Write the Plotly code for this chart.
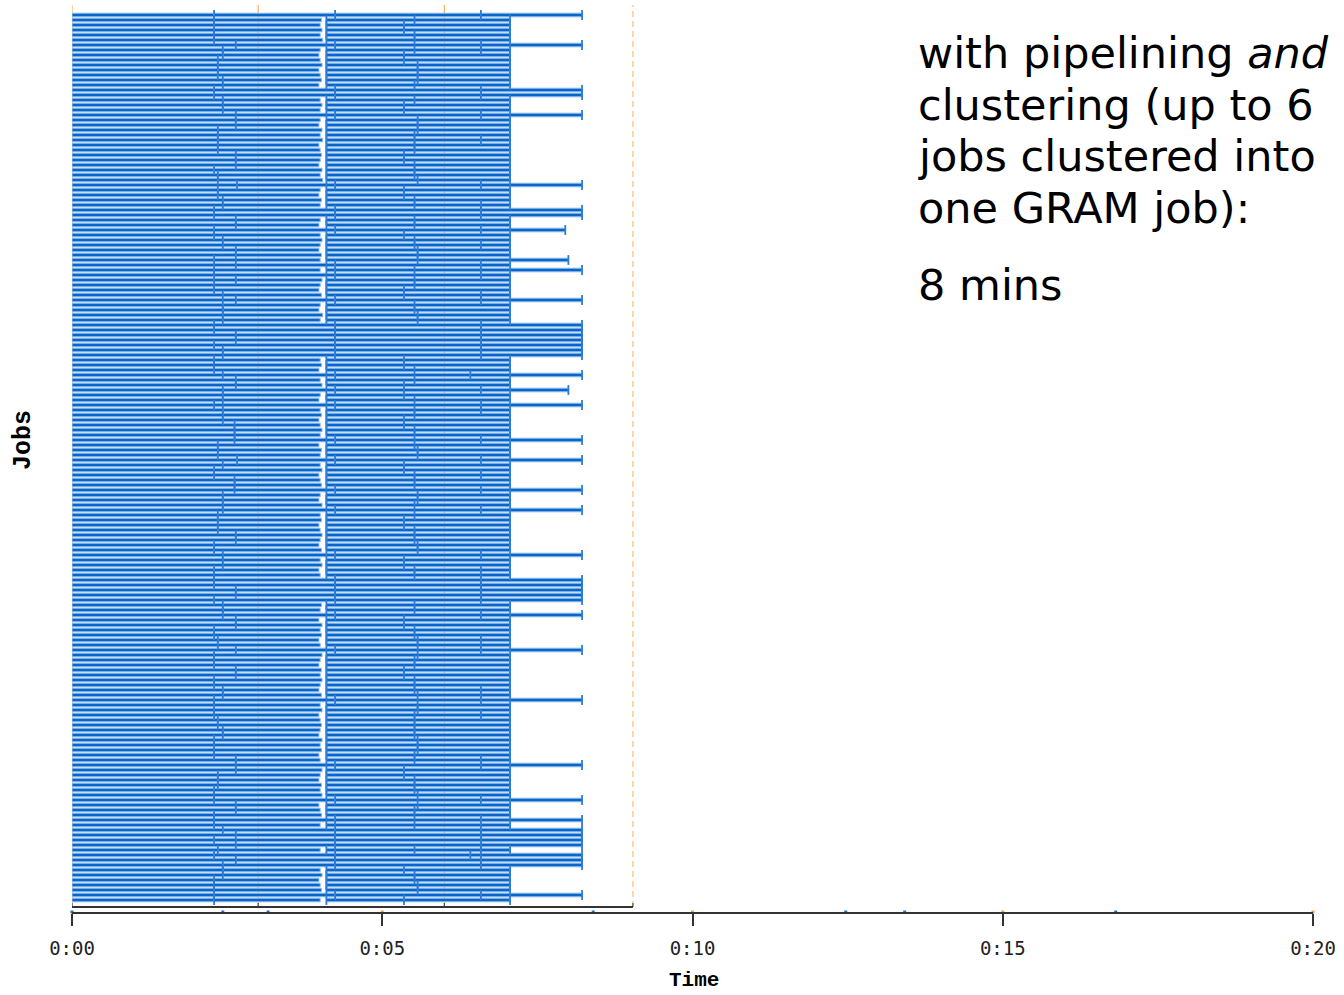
import plotly.graph_objects as go

# ---------------- data (minutes) ----------------
L, S = 8.22, 7.06
row_end = [
    L, S, S, S, S, S, L, S, S, S,
    S, S, S, S, S, L, L, S, S, S,
    L, S, S, S, S, S, S, S, S, S,
    S, S, S, S, L, S, S, S, S, L,
    L, S, S, 7.95, S, S, S, S, S, 8.0,
    S, L, S, S, S, S, S, L, S, S,
    S, S, L, L, L, L, L, L, L, S,
    S, S, L, S, S, 8.0, S, S, L, S,
    S, S, S, S, S, L, S, S, S, L,
    S, S, S, S, S, L, S, S, S, L,
    S, S, S, S, S, S, S, S, L, S,
    S, S, S, L, L, L, L, L, S, S,
    L, S, S, S, S, S, S, L, S, S,
    S, S, S, S, S, S, S, L, S, S,
    S, S, S, S, S, S, S, S, S, S,
    L, S, S, S, S, S, S, L, S, S,
    S, L, S, L, L, L, L, S, L, L,
    L, S, S, S, S, S, L, S,
]
row_t1 = [
    2.29, 2.29, 2.29, 2.29, 2.29, 2.29, 2.64, 2.43, 2.43, 2.35,
    2.35, 2.35, 2.35, 2.43, 2.43, 2.29, 2.29, 2.43, 2.43, 2.43,
    2.64, 2.64, 2.64, 2.35, 2.35, 2.35, 2.35, 2.35, 2.64, 2.64,
    2.64, 2.29, 2.35, 2.35, 2.66, 2.35, 2.35, 2.43, 2.43, 2.29,
    2.29, 2.64, 2.64, 2.29, 2.29, 2.43, 2.43, 2.64, 2.64, 2.29,
    2.64, 2.29, 2.29, 2.64, 2.29, 2.29, 2.43, 2.64, 2.43, 2.43,
    2.43, 2.43, 2.29, 2.29, 2.64, 2.64, 2.29, 2.43, 2.43, 2.29,
    2.29, 2.29, 2.43, 2.64, 2.64, 2.43, 2.43, 2.43, 2.29, 2.43,
    2.43, 2.43, 2.62, 2.62, 2.62, 2.62, 2.35, 2.35, 2.35, 2.66,
    2.43, 2.29, 2.29, 2.62, 2.62, 2.62, 2.43, 2.43, 2.43, 2.43,
    2.35, 2.35, 2.35, 2.35, 2.64, 2.64, 2.29, 2.29, 2.43, 2.43,
    2.43, 2.29, 2.29, 2.29, 2.29, 2.64, 2.64, 2.29, 2.43, 2.43,
    2.43, 2.64, 2.64, 2.29, 2.29, 2.35, 2.35, 2.64, 2.29, 2.29,
    2.29, 2.64, 2.64, 2.29, 2.29, 2.43, 2.43, 2.29, 2.29, 2.29,
    2.29, 2.35, 2.35, 2.43, 2.43, 2.29, 2.29, 2.29, 2.29, 2.64,
    2.64, 2.64, 2.35, 2.35, 2.35, 2.29, 2.29, 2.29, 2.64, 2.64,
    2.29, 2.29, 2.29, 2.43, 2.64, 2.29, 2.64, 2.35, 2.29, 2.64,
    2.43, 2.43, 2.43, 2.29, 2.29, 2.29, 2.29, 2.29,
]
row_gap_start = [
    4.24, 4.02, 4.00, 4.03, 4.00, 4.04, 4.24, 4.00, 3.98, 4.00,
    4.03, 3.98, 4.00, 4.02, 3.98, 4.24, 4.24, 4.00, 4.03, 4.00,
    4.24, 4.00, 3.98, 4.03, 4.00, 4.04, 3.98, 4.00, 4.02, 4.00,
    3.98, 4.03, 4.00, 4.04, 4.24, 4.00, 3.98, 4.02, 4.00, 4.24,
    4.24, 4.00, 3.98, 4.24, 4.00, 4.03, 4.00, 3.98, 4.02, 4.00,
    4.24, 4.00, 4.24, 4.03, 4.00, 3.98, 4.02, 4.24, 4.00, 3.98,
    4.04, 4.00, 4.24, 4.24, 4.24, 4.24, 4.24, 4.24, 4.24, 4.00,
    4.02, 3.98, 4.24, 4.00, 4.03, 4.24, 4.00, 3.98, 4.24, 4.00,
    4.02, 3.98, 4.00, 4.03, 4.00, 4.24, 3.98, 4.02, 4.00, 4.24,
    4.00, 4.03, 3.98, 4.00, 4.02, 4.24, 4.00, 3.98, 4.03, 4.24,
    4.00, 4.02, 3.98, 4.00, 4.03, 4.00, 3.98, 4.02, 4.24, 4.00,
    4.03, 3.98, 4.00, 4.24, 4.24, 4.24, 4.24, 4.24, 4.02, 4.00,
    4.24, 3.98, 4.03, 4.00, 4.02, 3.98, 4.00, 4.24, 4.03, 4.00,
    3.98, 4.02, 4.00, 4.03, 4.00, 3.98, 4.02, 4.24, 4.00, 4.03,
    3.98, 4.00, 4.02, 4.00, 3.98, 4.03, 4.00, 4.02, 3.98, 4.00,
    4.24, 4.03, 4.00, 3.98, 4.02, 4.00, 4.03, 4.24, 3.98, 4.00,
    4.02, 4.24, 4.00, 4.24, 4.24, 4.24, 4.24, 4.00, 4.24, 4.24,
    4.24, 4.00, 4.03, 3.98, 4.00, 4.02, 4.24, 4.00,
]
row_gap_end = [
    4.24, 4.10, 4.10, 4.10, 4.10, 4.10, 4.24, 4.10, 4.10, 4.10,
    4.10, 4.10, 4.10, 4.10, 4.10, 4.24, 4.24, 4.10, 4.10, 4.10,
    4.24, 4.10, 4.10, 4.10, 4.10, 4.10, 4.10, 4.10, 4.10, 4.10,
    4.10, 4.10, 4.10, 4.10, 4.24, 4.10, 4.10, 4.10, 4.10, 4.24,
    4.24, 4.10, 4.10, 4.24, 4.10, 4.10, 4.10, 4.10, 4.10, 4.10,
    4.24, 4.10, 4.24, 4.10, 4.10, 4.10, 4.10, 4.24, 4.10, 4.10,
    4.10, 4.10, 4.24, 4.24, 4.24, 4.24, 4.24, 4.24, 4.24, 4.10,
    4.10, 4.10, 4.24, 4.10, 4.10, 4.24, 4.10, 4.10, 4.24, 4.10,
    4.10, 4.10, 4.10, 4.10, 4.10, 4.24, 4.10, 4.10, 4.10, 4.24,
    4.10, 4.10, 4.10, 4.10, 4.10, 4.24, 4.10, 4.10, 4.10, 4.24,
    4.10, 4.10, 4.10, 4.10, 4.10, 4.10, 4.10, 4.10, 4.24, 4.10,
    4.10, 4.10, 4.10, 4.24, 4.24, 4.24, 4.24, 4.24, 4.10, 4.10,
    4.24, 4.10, 4.10, 4.10, 4.10, 4.10, 4.10, 4.24, 4.10, 4.10,
    4.10, 4.10, 4.10, 4.10, 4.10, 4.10, 4.10, 4.24, 4.10, 4.10,
    4.10, 4.10, 4.10, 4.10, 4.10, 4.10, 4.10, 4.10, 4.10, 4.10,
    4.24, 4.10, 4.10, 4.10, 4.10, 4.10, 4.10, 4.24, 4.10, 4.10,
    4.10, 4.24, 4.10, 4.24, 4.24, 4.24, 4.24, 4.10, 4.24, 4.24,
    4.24, 4.10, 4.10, 4.10, 4.10, 4.10, 4.24, 4.10,
]
row_t3 = [
    6.59, 5.52, 5.35, 5.35, 5.52, 5.52, 6.59, 5.52, 5.35, 5.35,
    5.57, 5.57, 5.57, 5.57, 5.52, 6.59, 6.59, 5.52, 5.35, 5.35,
    6.59, 5.57, 5.57, 5.57, 5.52, 5.52, 5.52, 5.52, 5.35, 5.35,
    5.52, 5.52, 5.52, 5.57, 6.59, 5.35, 5.35, 5.52, 5.52, 6.59,
    6.59, 5.52, 5.52, 6.59, 5.35, 5.52, 5.52, 5.57, 5.57, 5.57,
    6.59, 5.52, 6.59, 5.52, 5.52, 5.35, 5.35, 6.59, 5.52, 5.52,
    5.57, 5.57, 6.59, 6.59, 6.59, 6.59, 6.59, 6.59, 6.59, 5.35,
    5.35, 5.52, 6.42, 5.52, 5.35, 6.59, 5.35, 5.52, 6.59, 5.52,
    5.52, 5.35, 5.35, 5.52, 5.52, 6.59, 5.52, 5.57, 5.57, 6.59,
    5.35, 5.35, 5.52, 5.52, 5.52, 6.59, 5.57, 5.57, 5.52, 6.59,
    5.52, 5.35, 5.35, 5.52, 5.52, 5.52, 5.57, 5.57, 6.59, 5.35,
    5.35, 5.52, 5.52, 6.59, 6.59, 6.59, 6.59, 6.59, 5.52, 5.52,
    6.59, 5.35, 5.35, 5.52, 5.52, 5.57, 5.57, 6.59, 5.57, 5.52,
    5.52, 5.35, 5.35, 5.52, 5.52, 5.52, 5.57, 6.59, 5.57, 5.57,
    5.52, 5.52, 5.52, 5.52, 5.52, 5.57, 5.57, 5.57, 5.52, 5.52,
    6.59, 5.35, 5.35, 5.52, 5.52, 5.52, 5.57, 6.59, 5.57, 5.52,
    5.52, 6.59, 5.52, 6.59, 6.59, 6.59, 6.59, 5.52, 6.42, 6.59,
    6.59, 5.35, 5.52, 5.52, 5.57, 5.57, 6.59, 5.35,
]
# extra intermediate markers seen on some short jobs
extra_rows = [7, 25, 38, 46, 56, 79, 92, 111, 125, 135, 140, 149, 167]
extra_times = [6.59, 6.59, 6.59, 6.59, 6.59, 6.59, 6.59, 6.59, 6.59, 6.59, 6.59, 6.59, 6.59]

# events drawn on the time axis
axis_blue_times = [0.0, 2.43, 3.16, 8.40, 12.47, 13.42, 16.82]
axis_orange_times = [5, 10, 15, 20]

x_tickvals = [0, 5, 10, 15, 20]
x_ticktext = ["0:00", "0:05", "0:10", "0:15", "0:20"]
guide_solid = [3.0, 6.0]
guide_dashed = 9.04

text_lines = ["with pipelining <i>and</i>", "clustering (up to 6", "jobs clustered into",
              "one GRAM job):", "8 mins"]

# ---------------- geometry ----------------
W, H = 1344, 995
PL, PR = 72, 1313          # plot left / right pixel
PT, PB = 5, 912            # plot top / bottom pixel
n = len(row_end)
rows = list(range(n))
y_top, y_bot = -2.0, 179.4


def py(pix):
    return (PB - pix) / (PB - PT)


def px(pix):
    return (pix - PL) / (PR - PL)


DARK = "#0766cc"
EDGE = "#93bdeb"
TICK = "#2e7bd3"

fig = go.Figure()

seg_base = [
    [0.0] * n,
    row_t1,
    row_gap_end,
    row_t3,
]
seg_end = [
    row_t1,
    row_gap_start,
    row_t3,
    row_end,
]
for b, e in zip(seg_base, seg_end):
    fig.add_trace(go.Bar(
        y=rows, base=b, x=[ee - bb for bb, ee in zip(b, e)],
        orientation="h", width=0.72,
        marker=dict(color=DARK, line=dict(color=EDGE, width=1)),
        hoverinfo="skip", showlegend=False,
    ))

# boundary ticks
tx, ty = [], []
for i in rows:
    for t in (row_t1[i], row_gap_end[i], row_t3[i], row_end[i]):
        tx.append(t)
        ty.append(i)
tx += extra_times
ty += extra_rows
fig.add_trace(go.Scatter(
    x=tx, y=ty, mode="markers",
    marker=dict(symbol="line-ns", size=7, line=dict(color=TICK, width=1.8)),
    hoverinfo="skip", showlegend=False,
))

# events on the axis line
fig.add_trace(go.Scatter(
    x=axis_blue_times, y=[y_bot] * len(axis_blue_times), mode="markers",
    marker=dict(symbol="square", size=3, color="#1f6fcf"),
    cliponaxis=False, hoverinfo="skip", showlegend=False,
))
fig.add_trace(go.Scatter(
    x=axis_orange_times, y=[y_bot] * len(axis_orange_times), mode="markers",
    marker=dict(symbol="square", size=3, color="#f0a040"),
    cliponaxis=False, hoverinfo="skip", showlegend=False,
))

shapes = []
for g in guide_solid + [0.0]:
    shapes.append(dict(type="line", xref="x", yref="paper", x0=g, x1=g,
                       y0=py(907), y1=1, line=dict(color="#f2a33a", width=1),
                       layer="below"))
shapes.append(dict(type="line", xref="x", yref="paper", x0=guide_dashed, x1=guide_dashed,
                   y0=py(907), y1=1, line=dict(color="#ffc98e", width=1.5, dash="6px,4px"),
                   layer="above"))
# inner time frame line
shapes.append(dict(type="line", xref="x", yref="paper", x0=0, x1=guide_dashed,
                   y0=py(907), y1=py(907), line=dict(color="#333333", width=2)))
for g in [0.0] + guide_solid + [guide_dashed]:
    shapes.append(dict(type="line", xref="x", yref="paper", x0=g, x1=g,
                       y0=py(907), y1=py(903), line=dict(color="#333333", width=1)))

annotations = []
for txt, yc in zip(text_lines, [53, 105, 156, 208, 285]):
    annotations.append(dict(
        text=txt, xref="paper", yref="paper", x=px(916), y=py(yc),
        xanchor="left", yanchor="middle", showarrow=False, align="left",
        font=dict(family="DejaVu Sans", size=43, color="#000000"),
    ))
annotations.append(dict(
    text="<b>Time</b>", xref="paper", yref="paper", x=px(694), y=py(980),
    xanchor="center", yanchor="middle", showarrow=False,
    font=dict(family="Liberation Mono", size=21, color="#000000"),
))
annotations.append(dict(
    text="<b>Jobs</b>", xref="paper", yref="paper", x=px(24), y=py(440),
    xanchor="center", yanchor="middle", showarrow=False, textangle=-90,
    font=dict(family="Liberation Mono", size=25, color="#000000"),
))

fig.update_layout(
    width=W, height=H,
    margin=dict(l=PL, r=W - PR, t=PT, b=H - PB),
    paper_bgcolor="white", plot_bgcolor="white",
    barmode="overlay", showlegend=False,
    shapes=shapes, annotations=annotations,
    xaxis=dict(
        range=[0, 20], tickvals=x_tickvals, ticktext=x_ticktext,
        showgrid=False, zeroline=False, showline=True,
        linecolor="#333333", linewidth=2,
        ticks="outside", ticklen=12, tickwidth=2, tickcolor="#333333",
        ticklabelstandoff=6,
        tickfont=dict(family="DejaVu Sans Mono", size=19, color="#222222"),
    ),
    yaxis=dict(range=[y_bot, y_top], visible=False, showgrid=False, zeroline=False),
)

fig.write_html("out.html", config={"displayModeBar": False},
               post_script="document.body.style.margin='0px';")
